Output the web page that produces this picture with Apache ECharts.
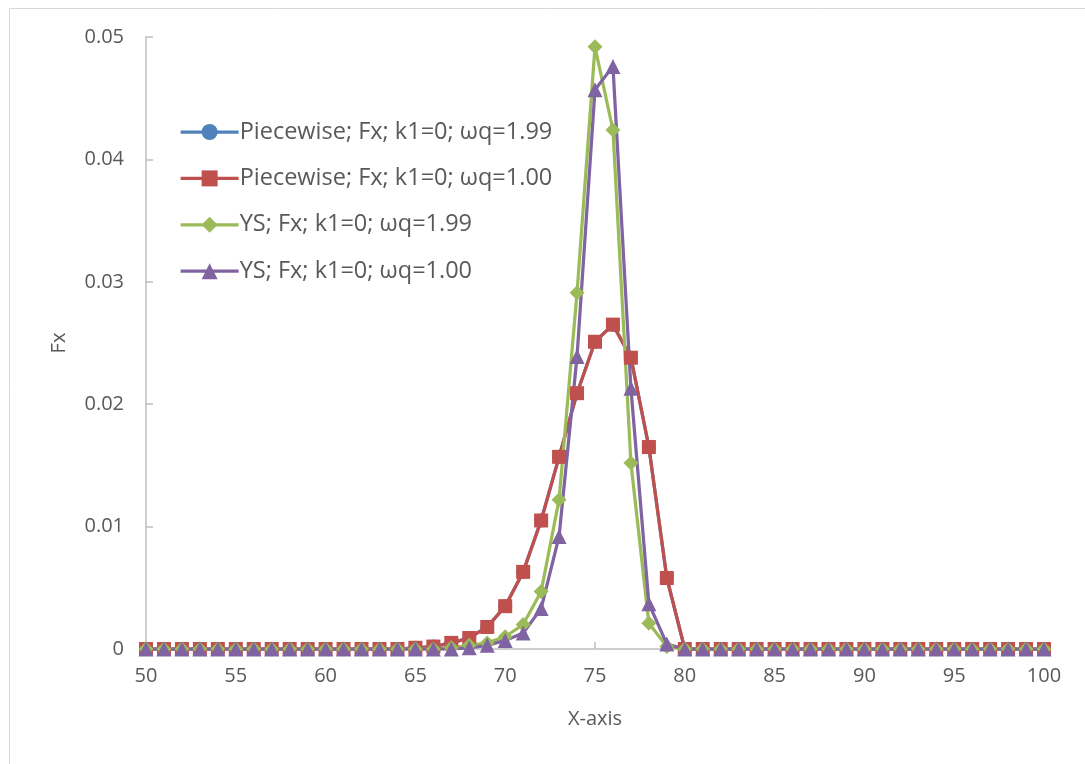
<!DOCTYPE html>
<html>
<head>
<meta charset="utf-8">
<script src="https://cdn.jsdelivr.net/npm/echarts@6/dist/echarts.min.js"></script>
<style>
  html, body { margin: 0; padding: 0; background: #ffffff; }
  #chart { width: 1085px; height: 764px; }
</style>
</head>
<body>
<div id="chart"></div>
<script>
// X positions (integer grid from 50 to 100)
const xValues = [50,51,52,53,54,55,56,57,58,59,60,61,62,63,64,65,66,67,68,69,70,
  71,72,73,74,75,76,77,78,79,80,81,82,83,84,85,86,87,88,89,90,
  91,92,93,94,95,96,97,98,99,100];

// Piecewise; k1=0; ωq=1.99
const piecewise199 = [0,0,0,0,0,0,0,0,0,0,0,0,0,0,0,0.0001,0.0002,0.0005,0.0009,0.0018,0.0035,
  0.0063,0.0105,0.0157,0.0209,0.0251,0.0265,0.0238,0.0165,0.0058,0,0,0,0,0,0,0,0,0,0,0,
  0,0,0,0,0,0,0,0,0,0];

// Piecewise; k1=0; ωq=1.00
const piecewise100 = [0,0,0,0,0,0,0,0,0,0,0,0,0,0,0,0.0001,0.0002,0.0005,0.0009,0.0018,0.0035,
  0.0063,0.0105,0.0157,0.0209,0.0251,0.0265,0.0238,0.0165,0.0058,0,0,0,0,0,0,0,0,0,0,0,
  0,0,0,0,0,0,0,0,0,0];

// YS; k1=0; ωq=1.99
const ys199 = [0,0,0,0,0,0,0,0,0,0,0,0,0,0,0,0,0,0.0001,0.0003,0.0005,0.0010,
  0.0020,0.0047,0.0122,0.0291,0.0492,0.0424,0.0152,0.0021,0.0002,0,0,0,0,0,0,0,0,0,0,0,
  0,0,0,0,0,0,0,0,0,0];

// YS; k1=0; ωq=1.00
const ys100 = [0,0,0,0,0,0,0,0,0,0,0,0,0,0,0,0,0,0,0.0001,0.0003,0.0007,
  0.0013,0.0033,0.0092,0.0239,0.0457,0.0476,0.0213,0.0037,0.0004,0,0,0,0,0,0,0,0,0,0,0,
  0,0,0,0,0,0,0,0,0,0];

const seriesNames = [
  'Piecewise; Fx; k1=0; ωq=1.99',
  'Piecewise; Fx; k1=0; ωq=1.00',
  'YS; Fx; k1=0; ωq=1.99',
  'YS; Fx; k1=0; ωq=1.00'
];

const yTicks = [0, 0.01, 0.02, 0.03, 0.04, 0.05];

const FONT = '"Open Sans", "Noto Sans", sans-serif';
const TEXT = '#595959';
const AXIS = '#BFBFBF';

function pairs(ys) { return xValues.map((x, i) => [x, ys[i]]); }

function lineSeries(name, ys, color, symbol, size) {
  return {
    name: name,
    type: 'line',
    data: pairs(ys),
    symbol: symbol,
    symbolSize: size,
    showAllSymbol: true,
    lineStyle: { color: color, width: 3.25 },
    itemStyle: { color: color, borderWidth: 0 },
    emphasis: { disabled: true },
    animation: false
  };
}

const chart = echarts.init(document.getElementById('chart'), null, { renderer: 'canvas' });

chart.setOption({
  backgroundColor: '#ffffff',
  animation: false,
  textStyle: { fontFamily: FONT },
  graphic: [{
    type: 'rect',
    left: 7, top: 6,
    shape: { width: 1200, height: 900 },
    style: { fill: 'none', stroke: '#D9D9D9', lineWidth: 1 },
    silent: true, z: -1
  }],
  grid: { left: 146, right: 41, top: 37, bottom: 115, containLabel: false },
  legend: {
    orient: 'vertical',
    left: 174,
    top: 115,
    itemWidth: 58,
    itemHeight: 20,
    itemGap: 22.4,
    lineStyle: { width: 3.25 },
    textStyle: { fontFamily: FONT, fontSize: 23.5, color: TEXT, padding: [0, 0, 0, -4] },
    data: seriesNames
  },
  xAxis: {
    type: 'value',
    min: 50, max: 100, interval: 5,
    name: 'X-axis',
    nameLocation: 'middle',
    nameGap: 60,
    nameTextStyle: { fontFamily: FONT, fontSize: 20, color: TEXT },
    axisLine: { show: true, onZero: false, lineStyle: { color: AXIS, width: 1.5 } },
    axisTick: { show: true, inside: true, length: 7, lineStyle: { color: AXIS, width: 1.5 } },
    axisLabel: { fontFamily: FONT, fontSize: 20, color: TEXT, margin: 17 },
    splitLine: { show: false }
  },
  yAxis: {
    type: 'value',
    min: yTicks[0], max: yTicks[yTicks.length - 1], interval: 0.01,
    name: 'Fx',
    nameLocation: 'middle',
    nameGap: 77,
    nameTextStyle: { fontFamily: FONT, fontSize: 20, color: TEXT },
    axisLine: { show: true, lineStyle: { color: AXIS, width: 1.5 } },
    axisTick: { show: true, inside: true, length: 7, lineStyle: { color: AXIS, width: 1.5 } },
    axisLabel: {
      fontFamily: FONT, fontSize: 20, color: TEXT, margin: 22,
      formatter: v => (v === 0 ? '0' : v.toFixed(2))
    },
    splitLine: { show: false }
  },
  series: [
    lineSeries(seriesNames[0], piecewise199, '#4F81BD', 'circle', 14),
    lineSeries(seriesNames[1], piecewise100, '#C0504D', 'rect', 14),
    lineSeries(seriesNames[2], ys199, '#9BBB59', 'diamond', 15),
    lineSeries(seriesNames[3], ys100, '#8064A2', 'triangle', 15)
  ]
});
</script>
</body>
</html>
